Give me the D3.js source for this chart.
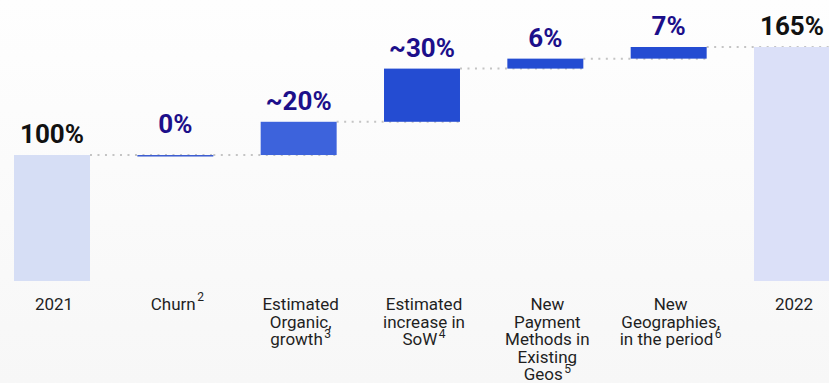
<!DOCTYPE html>
<html>
<head>
<meta charset="utf-8">
<script src="https://cdn.jsdelivr.net/npm/d3@7"></script>
<style>
  html, body { margin: 0; padding: 0; background: #fcfcfc; }
  svg { display: block; }
</style>
</head>
<body>
<svg id="chart" width="829" height="383"></svg>
<script>
// Revenue bridge 2021 -> 2022 (index, 2021 = 100%)
const categories = ["2021", "Churn", "Estimated Organic growth", "Estimated increase in SoW",
  "New Payment Methods in Existing Geos", "New Geographies in the period", "2022"];
const values = [100, 0, 20, 32, 6, 7, 165];
const valueLabels = ["100%", "0%", "~20%", "~30%", "6%", "7%", "165%"];
const labelLines = [
  ["2021"],
  ["Churn"],
  ["Estimated", "Organic,", "growth"],
  ["Estimated", "increase in", "SoW"],
  ["New", "Payment", "Methods in", "Existing", "Geos"],
  ["New", "Geographies,", "in the period"],
  ["2022"]
];
const footnotes = ["", "2", "3", "4", "5", "6", ""];

const W = 829, H = 383;
const fills = ["#d6def5", "#3a5bd0", "#3d63dc", "#244cd2", "#244cd2", "#244cd2", "#dbe0f8"];

const svg = d3.select("#chart");

// soft background
const defs = svg.append("defs");
const grad = defs.append("linearGradient").attr("id", "bg")
  .attr("x1", 0).attr("y1", 0).attr("x2", 0).attr("y2", 1);
grad.append("stop").attr("offset", "0%").attr("stop-color", "#fefefe");
grad.append("stop").attr("offset", "100%").attr("stop-color", "#f7f7f7");
svg.append("rect").attr("width", W).attr("height", H).attr("fill", "url(#bg)");

const x = d3.scaleBand().domain(categories).range([14, 830])
  .paddingInner(0.384).paddingOuter(0);
const y = d3.scaleLinear().domain([24.2, 165]).range([281, 47]);
const bw = x.bandwidth();

// waterfall segments
let running = 0;
const steps = categories.map((c, i) => {
  const isTotal = i === 0 || i === categories.length - 1;
  let start, end;
  if (isTotal) { start = y.domain()[0]; end = values[i]; }
  else { start = running; end = running + values[i]; }
  running = end;
  return { c, i, isTotal, start, end };
});

// dotted connectors between consecutive bars
const conn = svg.append("g");
steps.slice(0, -1).forEach((s, i) => {
  const next = steps[i + 1];
  conn.append("line")
    .attr("x1", x(s.c) + bw)
    .attr("x2", Math.min(W, x(next.c) + bw))
    .attr("y1", y(s.end)).attr("y2", y(s.end))
    .attr("stroke", "#c4c4c4")
    .attr("stroke-width", 2)
    .attr("stroke-dasharray", "2,5.5");
});

// bars
svg.append("g").selectAll("rect").data(steps).join("rect")
  .attr("x", d => x(d.c))
  .attr("width", bw)
  .attr("y", d => y(Math.max(d.start, d.end)))
  .attr("height", d => Math.max(1.5, Math.abs(y(d.start) - y(d.end))))
  .attr("fill", d => fills[d.i]);

// value labels
svg.append("g").selectAll("text").data(steps).join("text")
  .attr("x", d => x(d.c) + bw / 2)
  .attr("y", d => y(Math.max(d.start, d.end)) - (d.start === d.end ? 22 : 12))
  .attr("text-anchor", "middle")
  .attr("font-family", "Roboto, 'Noto Sans', sans-serif")
  .attr("font-weight", 700)
  .attr("font-size", 26)
  .attr("fill", d => d.isTotal ? "#111111" : "#1c0f8a")
  .text(d => valueLabels[d.i]);

// category labels with footnote markers
const cat = svg.append("g")
  .attr("font-family", "Roboto, 'Noto Sans', sans-serif")
  .attr("font-size", 17)
  .attr("fill", "#1f1f1f");
steps.forEach(d => {
  const cx = x(d.c) + bw / 2 + 2;
  const t = cat.append("text").attr("text-anchor", "middle");
  const lines = labelLines[d.i];
  lines.forEach((ln, k) => {
    t.append("tspan")
      .attr("x", cx)
      .attr("y", 310 + k * 17.5)
      .text(ln);
    if (k === lines.length - 1 && footnotes[d.i]) {
      t.append("tspan")
        .attr("dx", 1.5)
        .attr("dy", lines.length > 1 ? -7 : -9)
        .attr("font-size", 12)
        .text(footnotes[d.i]);
    }
  });
});
</script>
</body>
</html>
